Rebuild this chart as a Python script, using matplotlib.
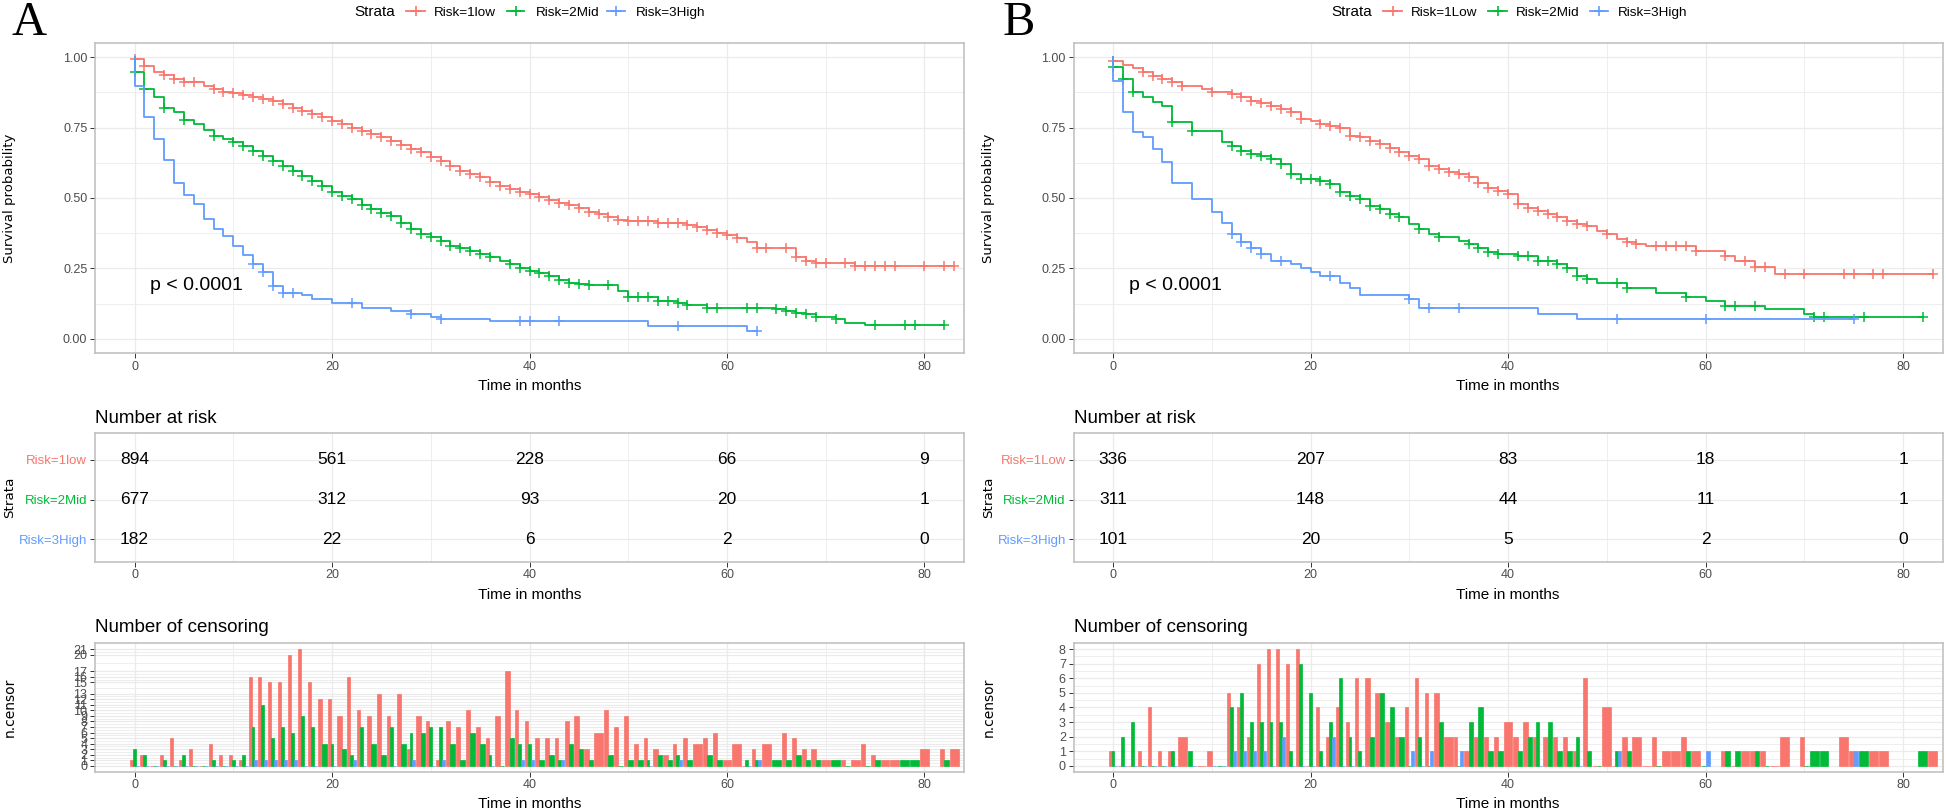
import bisect
import matplotlib.pyplot as plt
from matplotlib.lines import Line2D

plt.rcParams['font.family'] = ['Liberation Sans', 'DejaVu Sans']

W, H = 1946, 810
COLORS = ['#F8766D', '#00BA38', '#619CFF']
GRID = '#EBEBEB'
TICKTXT = '#4D4D4D'

time_ticks = [0, 20, 40, 60, 80]
names_a = ['Risk=1low', 'Risk=2Mid', 'Risk=3High']
names_b = ['Risk=1Low', 'Risk=2Mid', 'Risk=3High']

# ---- panel A: Kaplan-Meier steps (time, survival after the step)
a_low_t = [0, 1, 2, 3, 4, 5, 7, 8, 9, 10, 11, 12, 13, 14, 15, 16, 17, 18, 19, 20, 21, 22, 23, 24, 25, 26,
           27, 28, 29, 30, 31, 32, 33, 34, 35, 36, 37, 38, 39, 40, 41, 42, 43, 44, 45, 46, 47, 48, 49, 50,
           53, 56, 57, 58, 59, 60, 61, 62, 63, 67, 68, 69, 73]
a_low_s = [.993, .969, .948, .936, .924, .912, .898, .886, .877, .871, .865, .859, .851, .843, .833, .821,
           .809, .798, .786, .774, .762, .750, .738, .727, .715, .701, .689, .673, .662, .644, .630, .614,
           .596, .585, .573, .557, .543, .531, .522, .514, .505, .493, .484, .475, .464, .451, .443, .433,
           .422, .420, .413, .404, .396, .386, .376, .368, .357, .345, .324, .290, .277, .268, .257]
a_mid_t = [0, 1, 2, 3, 4, 5, 6, 7, 8, 9, 10, 11, 12, 13, 14, 15, 16, 17, 18, 19, 20, 21, 22, 23, 24, 25,
           26, 27, 28, 29, 30, 31, 32, 33, 34, 35, 36, 37, 38, 39, 40, 41, 42, 43, 44, 45, 46, 49, 50, 53,
           55, 56, 58, 62, 65, 66, 67, 68, 69, 71, 72, 74]
a_mid_s = [.946, .886, .859, .821, .806, .778, .762, .742, .721, .709, .697, .685, .667, .650, .632, .614,
           .596, .579, .561, .543, .520, .508, .496, .475, .460, .446, .437, .413, .389, .372, .363, .348,
           .330, .321, .312, .301, .289, .277, .265, .253, .241, .233, .224, .209, .200, .194, .190, .170,
           .147, .135, .129, .120, .111, .109, .105, .099, .093, .088, .079, .070, .058, .049]
a_high_t = [0, 1, 2, 3, 4, 5, 6, 7, 8, 9, 10, 11, 12, 13, 14, 15, 17, 18, 20, 23, 26, 28, 30, 31, 36, 52, 62]
a_high_s = [.898, .789, .709, .634, .553, .510, .480, .425, .389, .366, .330, .298, .265, .236, .188, .162,
            .155, .143, .129, .111, .099, .088, .079, .070, .063, .046, .028]

# ---- panel A: censoring counts
a_low_ct = [0, 1, 3, 4, 5, 6, 8, 9, 10, 11, 12, 13, 14, 15, 16, 17, 18, 19, 20, 21, 22, 23, 24, 25, 26, 27,
            28, 29, 30, 31, 32, 33, 34, 35, 36, 37, 38, 39, 40, 41, 42, 43, 44, 45, 46, 47, 48, 49, 50, 51,
            52, 53, 54, 55, 56, 57, 58, 59, 60, 61, 63, 64, 66, 67, 68, 69, 70, 72, 73, 74, 75, 76, 77, 80,
            82, 83]
a_low_cn = [1, 2, 2, 5, 1, 3, 4, 2, 2, 1, 16, 16, 15, 15, 20, 21, 15, 12, 12, 9, 16, 10, 9, 13, 9, 13,
            3, 9, 8, 1, 8, 7, 10, 7, 5, 9, 17, 10, 8, 5, 5, 5, 8, 9, 3, 6, 10, 7, 9, 4, 5, 3, 2, 4, 5, 4,
            5, 6, 1, 4, 3, 4, 6, 5, 3, 3, 1, 1, 1, 4, 2, 1, 1, 3, 3, 3]
a_mid_ct = [0, 1, 3, 5, 8, 10, 11, 12, 13, 14, 15, 16, 17, 18, 19, 20, 21, 22, 23, 24, 25, 26, 27, 28, 29,
            30, 31, 32, 33, 34, 35, 36, 38, 39, 40, 41, 42, 43, 44, 45, 46, 48, 50, 51, 52, 53, 54, 55, 56,
            58, 59, 62, 63, 65, 66, 67, 68, 69, 71, 75, 78, 79, 82]
a_mid_cn = [3, 2, 1, 2, 1, 1, 2, 7, 11, 5, 7, 6, 9, 7, 4, 4, 3, 2, 7, 4, 2, 7, 4, 6, 6, 7, 7, 4, 1, 6, 4,
            2, 5, 4, 4, 1, 2, 1, 4, 3, 1, 2, 1, 1, 1, 2, 1, 2, 1, 2, 1, 1, 1, 1, 1, 2, 1, 1, 1, 1, 1, 1, 1]
a_high_ct = [12, 13, 14, 15, 16, 22, 28, 31, 39, 40, 43, 55, 63]
a_high_cn = [1, 1, 1, 1, 1, 1, 1, 1, 1, 1, 1, 1, 1]

# ---- panel A: number at risk at 0, 20, 40, 60, 80
a_risk_low = [894, 561, 228, 66, 9]
a_risk_mid = [677, 312, 93, 20, 1]
a_risk_high = [182, 22, 6, 2, 0]

# ---- panel B: Kaplan-Meier steps
b_low_t = [0, 1, 2, 3, 4, 5, 6, 7, 9, 10, 12, 13, 14, 15, 16, 17, 18, 19, 20, 21, 22, 23, 24, 25, 26, 27,
           28, 29, 30, 31, 32, 33, 34, 35, 36, 37, 38, 39, 40, 41, 42, 43, 44, 45, 46, 47, 48, 49, 50, 51,
           52, 53, 54, 59, 62, 63, 65, 67]
b_low_s = [.985, .972, .960, .948, .934, .922, .910, .898, .886, .877, .869, .857, .845, .837, .827, .815,
           .804, .782, .774, .762, .756, .750, .721, .715, .703, .691, .676, .662, .650, .638, .614, .602,
           .591, .585, .573, .555, .537, .525, .514, .478, .466, .454, .443, .431, .419, .407, .401, .383,
           .372, .354, .344, .336, .330, .312, .295, .276, .255, .232]
b_mid_t = [0, 1, 2, 3, 4, 5, 6, 8, 11, 12, 13, 14, 15, 16, 17, 18, 19, 21, 22, 23, 24, 25, 26, 27, 28, 29,
           30, 31, 32, 33, 35, 36, 37, 38, 39, 41, 43, 45, 46, 47, 48, 49, 52, 55, 58, 60, 62, 66, 70, 71]
b_mid_s = [.966, .922, .877, .857, .839, .825, .768, .737, .697, .685, .667, .656, .650, .638, .620, .585,
           .567, .561, .549, .520, .508, .496, .472, .460, .443, .431, .407, .389, .372, .360, .348, .336,
           .321, .307, .301, .295, .277, .265, .253, .224, .212, .200, .182, .164, .147, .135, .117, .105,
           .088, .079]
b_high_t = [0, 1, 2, 3, 4, 5, 6, 8, 10, 11, 12, 13, 14, 15, 16, 18, 19, 20, 21, 23, 24, 25, 30, 31, 43, 47]
b_high_s = [.916, .804, .735, .715, .673, .626, .555, .496, .449, .413, .372, .344, .324, .301, .277, .265,
            .250, .238, .224, .200, .182, .156, .141, .111, .088, .070]

# ---- panel B: censoring counts
b_low_ct = [0, 3, 4, 5, 6, 7, 10, 12, 13, 14, 15, 16, 17, 18, 19, 21, 22, 23, 24, 25, 26, 27, 28, 29, 30,
            31, 32, 33, 34, 35, 36, 37, 38, 39, 40, 41, 42, 43, 44, 45, 46, 47, 48, 50, 52, 53, 55, 56, 57,
            58, 59, 62, 64, 65, 66, 68, 70, 74, 75, 77, 78, 83]
b_low_cn = [1, 1, 4, 1, 1, 2, 1, 5, 4, 2, 7, 8, 8, 7, 8, 4, 2, 4, 3, 6, 6, 5, 3, 2, 4, 6, 5, 5, 2, 2, 1,
            2, 2, 2, 3, 2, 3, 2, 2, 2, 2, 1, 6, 4, 2, 2, 2, 1, 1, 2, 1, 1, 1, 1, 1, 2, 2, 2, 1, 1, 1, 1]
b_mid_ct = [0, 1, 2, 6, 8, 12, 13, 14, 15, 16, 17, 18, 19, 20, 21, 22, 23, 24, 25, 26, 27, 28, 29, 31, 33,
            36, 37, 38, 39, 41, 42, 43, 44, 45, 46, 47, 48, 51, 52, 58, 62, 63, 65, 71, 72, 76, 82]
b_mid_cn = [1, 2, 3, 1, 1, 4, 5, 3, 3, 3, 3, 1, 7, 5, 1, 3, 6, 2, 1, 2, 5, 4, 2, 2, 3, 3, 4, 1, 1, 1, 2,
            3, 3, 1, 1, 2, 1, 1, 1, 1, 1, 1, 1, 1, 1, 1, 1]
b_high_ct = [12, 13, 14, 15, 17, 22, 30, 32, 35, 51, 60, 75]
b_high_cn = [1, 1, 1, 1, 2, 2, 1, 1, 1, 1, 1, 1]

b_risk_low = [336, 207, 83, 18, 1]
b_risk_mid = [311, 148, 44, 11, 1]
b_risk_high = [101, 20, 5, 2, 0]

fig = plt.figure(figsize=(W / 100, H / 100), dpi=100)


def add_ax(left, top, w, h):
    return fig.add_axes([left / W, 1 - (top + h) / H, w / W, h / H])


def style(ax):
    for sp in ax.spines.values():
        sp.set_color('#BDBDBD')
        sp.set_linewidth(1.1)
    ax.set_xlim(-4, 84)
    ax.set_xticks(time_ticks)
    ax.set_xticks([10, 30, 50, 70], minor=True)
    ax.tick_params(which='major', length=3.3, width=0.7, color='#333333',
                   labelsize=9, labelcolor=TICKTXT, pad=2.2)
    ax.tick_params(which='minor', length=0)
    ax.grid(which='major', color=GRID, lw=0.9)
    ax.grid(which='minor', color=GRID, lw=0.6)
    ax.set_axisbelow(True)


def surv_at(ts, ss, t):
    i = bisect.bisect_right(ts, t)
    return 1.0 if i == 0 else ss[i - 1]


def panel(x0, letter, letter_x, names, curves, cens, risk, legend_pos):
    w = 869
    cx = x0 + w / 2
    fig.text(letter_x / W, 1 - 35 / H, letter, family='Liberation Serif', fontsize=35, va='baseline')

    # legend
    title_x, items = legend_pos
    fig.text(title_x / W, 1 - 16 / H, 'Strata', fontsize=11, va='baseline')
    for (k0, k1, lx), name, c in zip(items, names, COLORS):
        yk = 1 - 11 / H
        fig.add_artist(Line2D([k0 / W, k1 / W], [yk, yk], color=c, lw=1.3, transform=fig.transFigure))
        fig.add_artist(Line2D([(k0 + k1) / 2 / W], [yk], color=c, marker='+', ms=7, mew=1.2,
                              transform=fig.transFigure))
        fig.text(lx / W, 1 - 16 / H, name, fontsize=9.7, va='baseline')

    # survival curves
    ax = add_ax(x0, 43, w, 310)
    style(ax)
    for (ts, ss), (ct, cn), c in zip(curves, cens, COLORS):
        end = max(ts[-1], ct[-1])
        ax.plot([0] + ts + [end], [1.0] + ss + [ss[-1]], drawstyle='steps-post', color=c, lw=1.3)
        mt = [t for t, n in zip(ct, cn) if n > 0]
        ax.plot(mt, [surv_at(ts, ss, t) for t in mt], ls='none', marker='+', ms=7, mew=1.1, color=c)
    ax.set_ylim(-0.05, 1.05)
    ax.set_yticks([0, 0.25, 0.5, 0.75, 1.0])
    ax.set_yticklabels(['0.00', '0.25', '0.50', '0.75', '1.00'])
    ax.set_yticks([0.125, 0.375, 0.625, 0.875], minor=True)
    ax.text(1.6, 0.19, 'p < 0.0001', fontsize=14, va='center', ha='left')
    fig.text((x0 - 85) / W, 1 - 198 / H, 'Survival probability', family='DejaVu Sans',
             fontsize=9.5, rotation=90, ha='center', va='center')
    fig.text(cx / W, 1 - 390 / H, 'Time in months', fontsize=11, ha='center', va='baseline')

    # number at risk
    fig.text(x0 / W, 1 - 423 / H, 'Number at risk', fontsize=13.5, va='baseline')
    ax = add_ax(x0, 433.3, w, 128.4)
    style(ax)
    rows = [3, 2, 1]
    for r, vals in zip(rows, risk):
        for t, v in zip(time_ticks, vals):
            ax.text(t, r, str(v), fontsize=12.5, ha='center', va='center')
    ax.set_ylim(0.435, 3.673)
    ax.set_yticks(rows)
    ax.set_yticklabels(names, fontsize=9.5)
    for lab, c in zip(ax.get_yticklabels(), COLORS):
        lab.set_color(c)
    fig.text((x0 - 85) / W, 1 - 497.5 / H, 'Strata', family='DejaVu Sans', fontsize=9.7,
             rotation=90, ha='center', va='center')
    fig.text(cx / W, 1 - 599 / H, 'Time in months', fontsize=11, ha='center', va='baseline')

    # number of censoring
    fig.text(x0 / W, 1 - 632 / H, 'Number of censoring', fontsize=13.5, va='baseline')
    ax = add_ax(x0, 643.3, w, 128.4)
    style(ax)
    steps = [set(ts) for ts, _ in curves]
    lookup = [dict(zip(ct, cn)) for ct, cn in cens]
    all_t = sorted(set().union(*steps, *[set(ct) for ct, _ in cens]))
    for t in all_t:
        present = [g for g in range(3) if lookup[g].get(t, 0) > 0 or t in steps[g]]
        if not present:
            continue
        bw = 0.9 / len(present)
        for i, g in enumerate(present):
            ax.bar(t - 0.45 + bw * (i + 0.5), lookup[g].get(t, 0), width=bw,
                   color=COLORS[g], edgecolor=COLORS[g], lw=0.5)
    top = max(max(cn) for _, cn in cens)
    ax.set_ylim(-0.05 * top, 1.05 * top)
    breaks = sorted(set([0]).union(*[set(cn) for _, cn in cens]))
    ax.set_yticks(breaks)
    ax.set_yticks([(a + b) / 2 for a, b in zip(breaks[:-1], breaks[1:])], minor=True)
    fig.text((x0 - 85) / W, 1 - 707.5 / H, 'n.censor', family='DejaVu Sans', fontsize=10,
             rotation=90, ha='center', va='center')
    fig.text(cx / W, 1 - 808 / H, 'Time in months', fontsize=11, ha='center', va='baseline')


panel(95, 'A', 11, names_a,
      [(a_low_t, a_low_s), (a_mid_t, a_mid_s), (a_high_t, a_high_s)],
      [(a_low_ct, a_low_cn), (a_mid_ct, a_mid_cn), (a_high_ct, a_high_cn)],
      [a_risk_low, a_risk_mid, a_risk_high],
      (354, [(406, 425, 434), (507, 524, 536), (607, 625, 636)]))
panel(1073.5, 'B', 1003, names_b,
      [(b_low_t, b_low_s), (b_mid_t, b_mid_s), (b_high_t, b_high_s)],
      [(b_low_ct, b_low_cn), (b_mid_ct, b_mid_cn), (b_high_ct, b_high_cn)],
      [b_risk_low, b_risk_mid, b_risk_high],
      (1331, [(1383, 1402, 1411), (1488, 1507, 1516), (1590, 1608, 1618)]))

fig.savefig('out.png', dpi=100)
